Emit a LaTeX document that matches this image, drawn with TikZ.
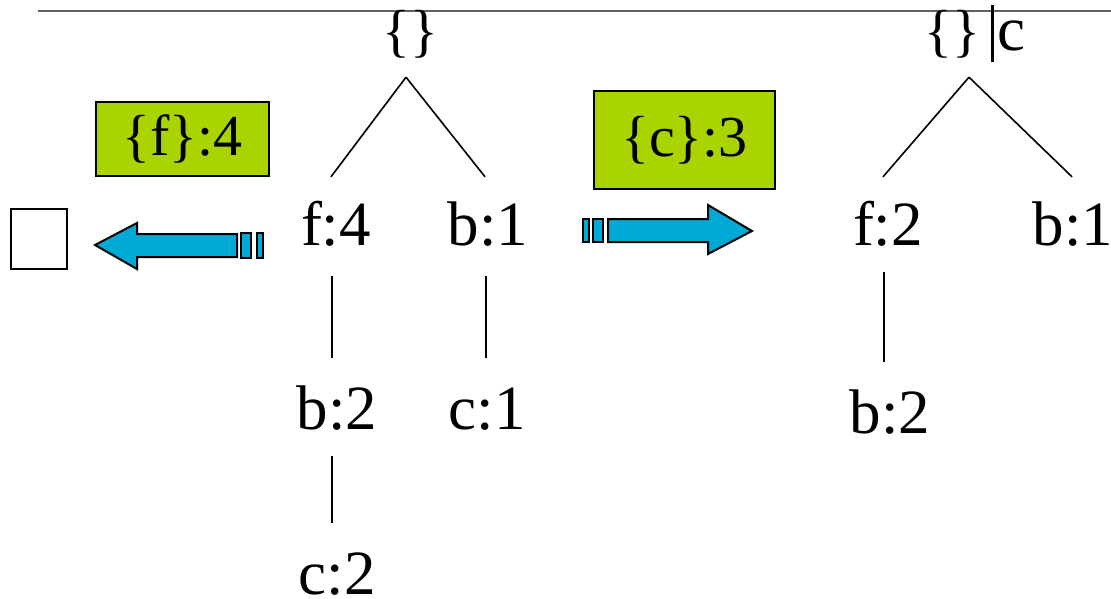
\documentclass[tikz,border=0pt]{standalone}
\usepackage{fontspec}
\setmainfont{Liberation Serif}
\definecolor{boxgreen}{RGB}{170,212,0}
\definecolor{arrowblue}{RGB}{0,170,212}
\definecolor{rulegray}{RGB}{96,96,96}
\begin{document}
\begin{tikzpicture}[x=1pt,y=-1pt,
  lbl/.style={inner sep=0pt, anchor=base, text height=45pt, text depth=0pt,
              font=\fontsize{63}{70}\selectfont},
  toplbl/.style={inner sep=0pt, anchor=base, text height=45pt, text depth=0pt,
              font=\fontsize{58}{64}\selectfont},
  tag/.style={draw=black, line width=1.5pt, fill=boxgreen, inner sep=0pt,
              font=\fontsize{58}{64}\selectfont},
  edge/.style={line width=1.6pt},
  blk/.style={draw=black, line width=2pt, fill=arrowblue, line join=miter}]
\useasboundingbox (0,0) rectangle (1111,599);

% header rule
\draw[rulegray, line width=2pt] (38,11) -- (1111,11);

% left tree
\node[toplbl] (root) at (410,51) {\{\}};
\node[lbl] (f4) at (336,245) {f:4};
\node[lbl] (b1) at (488,245) {b:1};
\node[lbl] (b2) at (337,429) {b:2};
\node[lbl] (c1) at (487,429) {c:1};
\node[lbl] (c2) at (337,594) {c:2};

\draw[edge] ([shift={(-4,26)}]root.south) -- ([shift={(-5,-23)}]f4.north);
\draw[edge] ([shift={(-4,26)}]root.south) -- ([shift={(-3,-23)}]b1.north);
\draw[edge] ([shift={(-4,31)}]f4.south) -- ([shift={(-5,-26)}]b2.north);
\draw[edge] ([shift={(-2,31)}]b1.south) -- ([shift={(-1,-26)}]c1.north);
\draw[edge] ([shift={(-5,27)}]b2.south) -- ([shift={(-5,-26)}]c2.north);

% conditional tree
\node[toplbl] (rootR) at (952,51) {\{\}};
\node[lbl] (condc) at (1011,51) {c};
\draw[line width=3pt] ([xshift=12]rootR.base east) ++(0,-46) coordinate (bartop)
      -- ++(0,57) coordinate (barbot);
\node[lbl] (f2) at (888,245) {f:2};
\node[lbl] (b1R) at (1073,245) {b:1};
\node[lbl] (b2R) at (890,433) {b:2};

\draw[edge] ([shift={(17,26)}]rootR.south) -- ([shift={(-5,-23)}]f2.north);
\draw[edge] ([shift={(17,26)}]rootR.south) -- ([shift={(-1,-23)}]b1R.north);
\draw[edge] ([shift={(-4,27)}]f2.south) -- ([shift={(-6,-26)}]b2R.north);

% pattern tags
\node[tag, minimum width=173pt, minimum height=74pt] (tagf) at (182.5,139) {\{f\}:4};
\node[tag, minimum width=181pt, minimum height=98pt] (tagc) at (684.5,140) {\{c\}:3};

% empty result
\node[draw=black, line width=2pt, minimum width=56pt, minimum height=60pt, inner sep=0pt]
  (empty) at (38.5,238.5) {};

% arrow pointing left
\draw[blk] (95,245) -- (137,223) -- (137,234) -- (237,234) -- (237,257)
  -- (137,257) -- (137,269) -- cycle;
\draw[blk] (241,233) rectangle (251,258);
\draw[blk] (257,233) rectangle (263,258);

% arrow pointing right
\draw[blk] (583,219) rectangle (589,242);
\draw[blk] (593,219) rectangle (603,242);
\draw[blk] (608,219) -- (708,219) -- (708,205) -- (752,231) -- (708,254)
  -- (708,242) -- (608,242) -- cycle;
\end{tikzpicture}
\end{document}
